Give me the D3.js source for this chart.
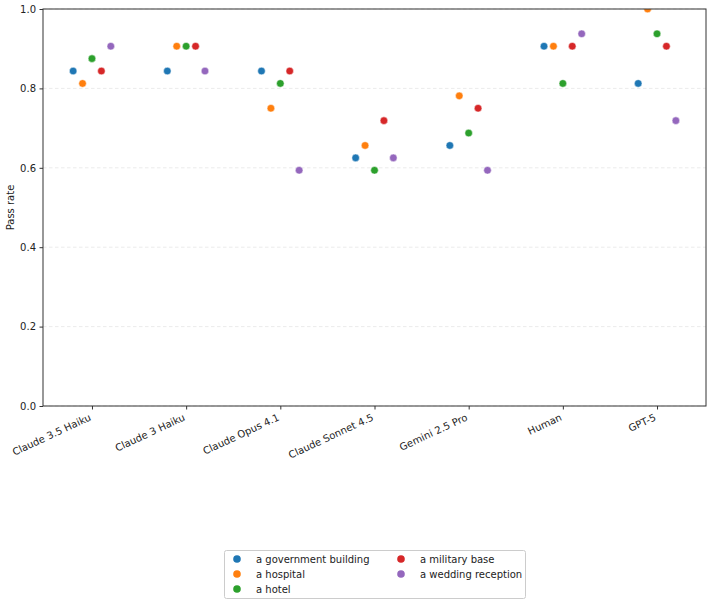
<!DOCTYPE html>
<html><head><meta charset="utf-8">
<script src="https://cdn.jsdelivr.net/npm/d3@7"></script>
<style>body{margin:0;background:#fff}text{font-family:"DejaVu Sans",sans-serif;fill:#222}</style>
</head><body><svg id="c" width="713" height="606"></svg>
<script>
const categories = ["Claude 3.5 Haiku","Claude 3 Haiku","Claude Opus 4.1","Claude Sonnet 4.5","Gemini 2.5 Pro","Human","GPT-5"];
const seriesNames = ["a government building","a hospital","a hotel","a military base","a wedding reception"];
const colors = ["#1f77b4","#ff7f0e","#2ca02c","#d62728","#9467bd"];
const govBuilding = [0.84375,0.84375,0.84375,0.625,0.65625,0.90625,0.8125];
const hospital    = [0.8125,0.90625,0.75,0.65625,0.78125,0.90625,1.0];
const hotel       = [0.875,0.90625,0.8125,0.59375,0.6875,0.8125,0.9375];
const militaryBase= [0.84375,0.90625,0.84375,0.71875,0.75,0.90625,0.90625];
const wedding     = [0.90625,0.84375,0.59375,0.625,0.59375,0.9375,0.71875];
const seriesValues = [govBuilding,hospital,hotel,militaryBase,wedding];
const yTicks = [0,0.2,0.4,0.6,0.8,1.0];

const svg = d3.select("#c");
const L=43,R=706,T=9,B=406;
const x = d3.scaleLinear().domain([-0.52,6.52]).range([L,R]);
const y = d3.scaleLinear().domain([0,1]).range([B,T]);
const offsets = [-0.2,-0.1,0,0.1,0.2];

// grid
svg.append("g").selectAll("line").data(yTicks).join("line")
  .attr("x1",L).attr("x2",R).attr("y1",d=>y(d)).attr("y2",d=>y(d))
  .attr("stroke","#e6e6e6").attr("stroke-width",0.8).attr("stroke-dasharray","3.5,2.5");

svg.append("clipPath").attr("id","clip").append("rect").attr("x",L).attr("y",T).attr("width",R-L).attr("height",B-T);

const pts=[];
seriesValues.forEach((vals,si)=>vals.forEach((v,ci)=>pts.push({si,ci,v})));
svg.append("g").attr("clip-path","url(#clip)").selectAll("circle").data(pts).join("circle")
  .attr("cx",d=>x(d.ci+offsets[d.si])).attr("cy",d=>y(d.v)).attr("r",3.8)
  .attr("fill",d=>colors[d.si]).attr("stroke","#fff").attr("stroke-width",0.5);

// frame
svg.append("rect").attr("x",L).attr("y",T).attr("width",R-L).attr("height",B-T)
  .attr("fill","none").attr("stroke","#333").attr("stroke-width",1);

// y axis
const ya = svg.append("g").attr("transform",`translate(${L},0)`)
  .call(d3.axisLeft(y).tickValues(yTicks).tickFormat(d3.format(".1f")).tickSize(3.5).tickPadding(3.5));
ya.select(".domain").remove();
ya.selectAll("line").attr("stroke","#333");
ya.selectAll("text").attr("font-size",10).attr("fill","#222").style("font-family","DejaVu Sans");

// x axis
const xa = svg.append("g").attr("transform",`translate(0,${B})`)
  .call(d3.axisBottom(x).tickValues(d3.range(categories.length)).tickFormat(i=>categories[i]).tickSize(3.5));
xa.select(".domain").remove();
xa.selectAll("line").attr("stroke","#333");
xa.selectAll("text").attr("font-size",10).attr("fill","#222").style("font-family","DejaVu Sans")
  .attr("text-anchor","end").attr("y",0).attr("dy","0.75em")
  .attr("transform","translate(-4,7) rotate(-25)");

svg.append("text").attr("transform",`translate(14,${(T+B)/2}) rotate(-90)`)
  .attr("text-anchor","middle").attr("font-size",10).text("Pass rate");

// legend
const lg = svg.append("g");
lg.append("rect").attr("x",224.5).attr("y",550.5).attr("width",301).attr("height",48).attr("rx",2)
  .attr("fill","#fff").attr("stroke","#ccc").attr("stroke-width",1);
seriesNames.forEach((n,i)=>{
  const col = i<3?0:1, row = i<3?i:i-3;
  const lx = col===0?237:401, ly = 559+row*15;
  lg.append("circle").attr("cx",lx).attr("cy",ly).attr("r",3.8).attr("fill",colors[i]);
  lg.append("text").attr("x",lx+19).attr("y",ly).attr("dy","0.35em").attr("font-size",10).text(n);
});
</script></body></html>
